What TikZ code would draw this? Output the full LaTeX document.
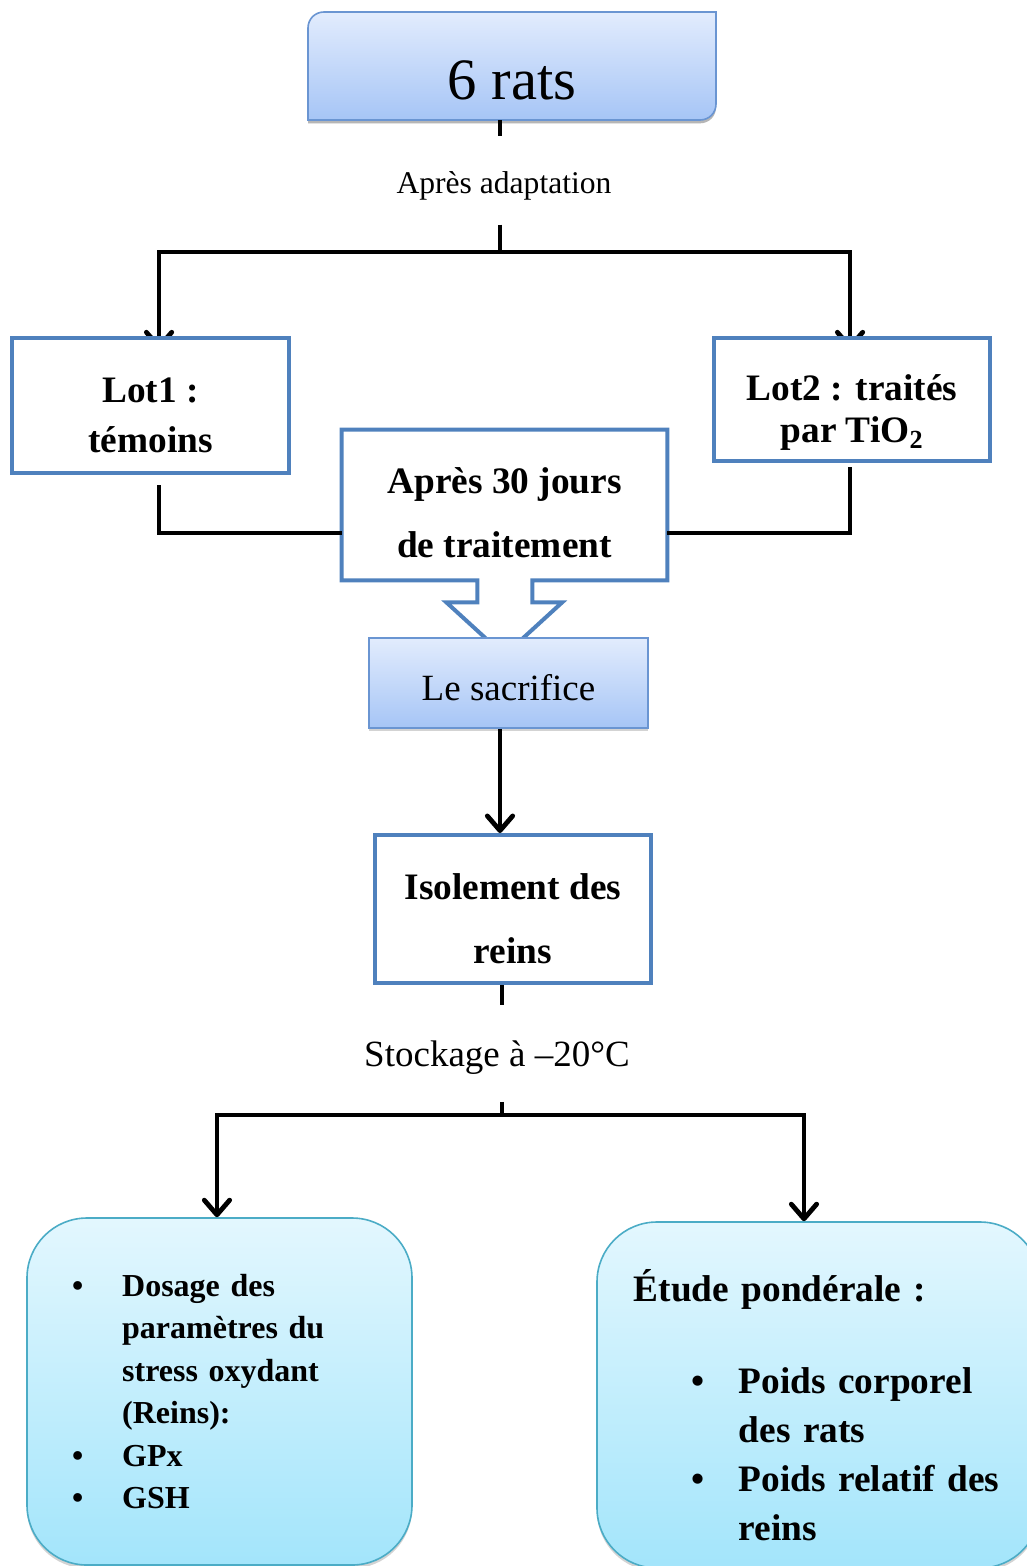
\documentclass[tikz,border=0pt]{standalone}
\usepackage{fontspec}
\setmainfont{Liberation Serif}
\usetikzlibrary{positioning,arrows.meta,calc,shadows,backgrounds}
\definecolor{ratstop}{HTML}{E2ECFD}
\definecolor{ratsbot}{HTML}{A6C5F6}
\definecolor{ratsline}{HTML}{6A95D2}
\definecolor{lotline}{HTML}{4F81BD}
\definecolor{cyantop}{HTML}{E3F7FE}
\definecolor{cyanbot}{HTML}{A3E5FB}
\definecolor{cyanline}{HTML}{4BACC6}

\begin{document}
\begin{tikzpicture}[
    x=0.75pt, y=-0.75pt,
    link/.style={line width=3.6pt, draw=black},
    arr/.style={link, -{Straight Barb[length=11pt,width=19pt,line cap=round,line join=round]}},
    lotbox/.style={draw=lotline, line width=3pt, fill=white},
    boxtxt/.style={align=center, font=\fontsize{28}{48}\selectfont\bfseries},
    shade/.style={drop shadow={shadow xshift=0pt, shadow yshift=-2.5pt, opacity=.35}},
    bluebox/.style={draw=ratsline, line width=1.2pt, top color=ratstop, bottom color=ratsbot, shade},
    cyanbox/.style={draw=cyanline, line width=1.2pt, top color=cyantop, bottom color=cyanbot, rounded corners=45pt, shade, align=left},
    lbl/.style={inner xsep=2pt, font=\fontsize{23.7}{28}\selectfont}
]
    \useasboundingbox (0,0) rectangle (1027,1566);

    % top
    \node[minimum width=306pt, minimum height=81pt, text height=51pt, text depth=0pt,
          font=\fontsize{44}{52}\selectfont] (rats) at (512,66) {6 rats};
    \begin{scope}[on background layer]
        \shadedraw[draw=ratsline, line width=1.2pt, top color=ratstop, bottom color=ratsbot, shade]
            (308,28) -- (308,120) -- (700,120) .. controls (709,120) and (716,113) .. (716,104)
            -- (716,12) -- (324,12) .. controls (315,12) and (308,19) .. (308,28) -- cycle;
    \end{scope}
    \node[lbl, inner ysep=18pt] (adapt) at (504,186) {Après adaptation};
    \coordinate (split) at (500,252);

    \draw[link] (rats.south -| split) -- ++(0,16);
    \draw[link] (adapt.south -| split) -- (split);

    % the two lots
    \node[lotbox, minimum width=207.75pt, minimum height=101.25pt] (lot1) at (150.5,405.5) {};
    \node[boxtxt, font=\fontsize{28}{37.5}\selectfont\bfseries] (lot1txt) at ([yshift=-7.5pt]lot1.center) {Lot1 :\\témoins};
    \node[lotbox, minimum width=207pt, minimum height=92.25pt] (lot2) at (852,399.5) {};
    \node[boxtxt, font=\fontsize{28}{31.5}\selectfont\bfseries] (lot2txt) at ([yshift=-10pt]lot2.center) {Lot2 : traités\\par TiO\textsubscript{2}};
    \begin{scope}[on background layer]
        \draw[arr] (split) -| ([xshift=6.4pt,yshift=-10pt]lot1.north);
        \draw[arr] (split) -| ([xshift=-1.5pt,yshift=-10pt]lot2.north);
    \end{scope}

    \node[minimum width=243.75pt, minimum height=112.5pt] (jours) at (504.5,505) {};
    \node[boxtxt] (jourstxt) at ([yshift=-6pt]jours.center) {Après 30 jours\\de traitement};
    \draw[draw=lotline, line width=3pt, line join=miter]
        (jours.north west) -- (jours.north east) -- (jours.south east) -- ++(-135,0) -- ++(0,22) -- ++(30,0)
        -- ++(-58,53) -- ++(-58,-53) -- ++(31,0) -- ++(0,-22) -- (jours.south west) -- cycle;

    \draw[link] ([xshift=6.4pt,yshift=-7.5pt]lot1.south) |- ([yshift=-21pt]jours.west);
    \draw[link] ([xshift=-1.5pt,yshift=-3pt]lot2.south) |- ([yshift=-21pt]jours.east);

    % sacrifice and kidneys
    \node[bluebox, minimum width=209pt, minimum height=67.5pt] (sacrif) at (508.5,683) {};
    \node[font=\fontsize{27.75}{32}\selectfont] (sacriftxt) at ([yshift=-3.5pt]sacrif.center) {Le sacrifice};
    \node[lotbox, minimum width=207pt, minimum height=111pt] (isol) at (513,909) {};
    \node[boxtxt] (isoltxt) at ([yshift=-7.5pt]isol.center) {Isolement des\\reins};
    \draw[arr] (sacrif.south -| split) -- (isol.north -| split);

    \node[lbl, inner ysep=20pt, font=\fontsize{27.75}{32}\selectfont] (stock) at (497,1058) {Stockage à –20°C};
    \coordinate (split2) at (502,1115);
    \draw[link] (isol.south -| split2) -- ++(0,20);
    \draw[link] (stock.south -| split2) -- (split2);

    % analyses
    \node[cyanbox, minimum width=288.75pt, minimum height=260.25pt, text width=221pt,
          font=\fontsize{24}{31.8}\selectfont\bfseries] (dosage) at (219.5,1391.5)
        {\makebox[37.5pt][l]{\textbullet}Dosage des\\
         \hspace*{37.5pt}paramètres du\\
         \hspace*{37.5pt}stress oxydant\\
         \hspace*{37.5pt}(Reins):\\
         \makebox[37.5pt][l]{\textbullet}GPx\\
         \makebox[37.5pt][l]{\textbullet}GSH};
    \node[cyanbox, minimum width=332.25pt, minimum height=259.5pt] (etude) at (818.5,1395) {};
    \node[align=left, text width=277pt, font=\fontsize{28}{36.75}\selectfont\bfseries] (etudetxt) at ([yshift=-7.5pt]etude.center)
        {Étude pondérale :\\[32pt]
         \hspace*{43.5pt}\makebox[35.25pt][l]{\textbullet}Poids corporel\\
         \hspace*{78.75pt}des rats\\
         \hspace*{43.5pt}\makebox[35.25pt][l]{\textbullet}Poids relatif des\\
         \hspace*{78.75pt}reins};

    \draw[arr] (split2) -| ([xshift=-1.9pt]dosage.north);
    \draw[arr] (split2) -| ([xshift=-10.9pt]etude.north);
\end{tikzpicture}
\end{document}
